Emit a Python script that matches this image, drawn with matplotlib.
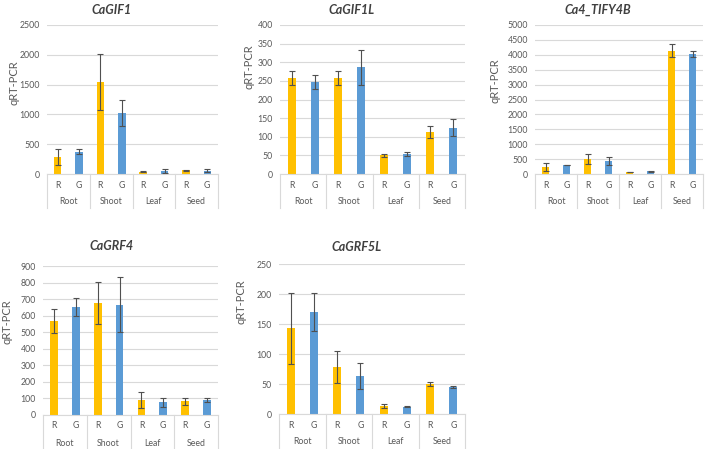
import matplotlib
matplotlib.use("Agg")
import matplotlib.pyplot as plt
import numpy as np

plt.rcParams['font.family'] = ['Lato', 'DejaVu Sans']

# datos
tejidos = ['Root', 'Shoot', 'Leaf', 'Seed']
condiciones = ['R', 'G']
genes = ['CaGIF1', 'CaGIF1L', 'Ca4_TIFY4B', 'CaGRF4', 'CaGRF5L']

gif1_r = [285, 1540, 40, 62]
gif1_g = [375, 1020, 45, 56]
gif1_r_err = [137, 470, 10, 8]
gif1_g_err = [40, 220, 33, 22]

gif1l_r = [258, 257, 50, 113]
gif1l_g = [247, 286, 53, 124]
gif1l_r_err = [19, 19, 5, 16]
gif1l_g_err = [19, 48, 5, 23]

tify_r = [246, 492, 67, 4140]
tify_g = [302, 436, 90, 4040]
tify_r_err = [134, 168, 10, 207]
tify_g_err = [10, 130, 10, 100]

grf4_r = [568, 676, 91, 83]
grf4_g = [652, 666, 76, 91]
grf4_r_err = [70, 128, 50, 20]
grf4_g_err = [55, 165, 25, 10]

grf5l_r = [143, 78, 14, 50]
grf5l_g = [170, 63, 12, 45]
grf5l_r_err = [59, 27, 3.5, 3]
grf5l_g_err = [32, 22, 1, 1.5]

ymax = [2500, 400, 5000, 900, 250]
ypaso = [500, 50, 500, 100, 50]

# posiciones en pixeles: izquierda, derecha, arriba, abajo
cajas = [(47, 218, 25, 174), (280, 465, 25, 174), (535, 703, 25, 174),
         (43, 218, 266, 415), (279, 465, 264, 414)]
titulos_xy = [(112, 10), (352, 10), (598, 10), (112, 246), (357, 247)]
ylabel_xy = [(14, 83), (249, 67), (495, 81), (7, 322), (241, 302)]

datos = [(gif1_r, gif1_g, gif1_r_err, gif1_g_err),
         (gif1l_r, gif1l_g, gif1l_r_err, gif1l_g_err),
         (tify_r, tify_g, tify_r_err, tify_g_err),
         (grf4_r, grf4_g, grf4_r_err, grf4_g_err),
         (grf5l_r, grf5l_g, grf5l_r_err, grf5l_g_err)]

amarillo = '#FFC000'
azul = '#5B9BD5'
gris = '#595959'
W, H = 708, 449

fig = plt.figure(figsize=(W / 100, H / 100), dpi=100)

for i in range(5):
    l, r, t, b = cajas[i]
    ax = fig.add_axes([l / W, 1 - b / H, (r - l) / W, (b - t) / H])
    rr, gg, re, ge = datos[i]
    x = np.arange(len(tejidos))
    xr = x * 2
    xg = x * 2 + 1
    ax.bar(xr, rr, width=0.35, color=amarillo, zorder=2)
    ax.bar(xg, gg, width=0.35, color=azul, zorder=2)
    ax.errorbar(xr, rr, yerr=re, fmt='none', ecolor='#505050', elinewidth=0.8, capsize=2, capthick=0.8, zorder=3)
    ax.errorbar(xg, gg, yerr=ge, fmt='none', ecolor='#505050', elinewidth=0.8, capsize=2, capthick=0.8, zorder=3)
    ax.set_xlim(-0.5, 7.5)
    ax.set_ylim(0, ymax[i])
    ax.set_yticks(np.arange(0, ymax[i] + 1, ypaso[i]))
    ax.yaxis.grid(True, color='#D9D9D9', linewidth=0.8, zorder=0)
    ax.set_axisbelow(True)
    for s in ['top', 'right', 'left']:
        ax.spines[s].set_visible(False)
    ax.spines['bottom'].set_color('#D9D9D9')
    ax.spines['bottom'].set_linewidth(0.8)
    ax.tick_params(axis='y', length=0, labelsize=6.3, labelcolor=gris, pad=5)
    ax.set_xticks([])
    alto = b - t
    # etiquetas de categoria estilo excel
    for j in range(len(tejidos)):
        for k, c in enumerate(condiciones):
            ax.text(2 * j + k, -11 / alto, c, transform=ax.get_xaxis_transform(),
                    ha='center', va='center', fontsize=6.3, color=gris)
        ax.text(2 * j + 0.5, -28 / alto, tejidos[j], transform=ax.get_xaxis_transform(),
                ha='center', va='center', fontsize=6.3, color=gris)
    for sep in [-0.5, 1.5, 3.5, 5.5, 7.5]:
        ax.plot([sep, sep], [0, -34 / alto], transform=ax.get_xaxis_transform(),
                color='#D9D9D9', linewidth=0.8, clip_on=False)
    tx, ty = titulos_xy[i]
    fig.text(tx / W, 1 - ty / H, genes[i], ha='center', va='center',
             fontsize=9, fontweight='bold', fontstyle='italic', color='#404040')
    lx, ly = ylabel_xy[i]
    fig.text(lx / W, 1 - ly / H, 'qRT-PCR', ha='center', va='center',
             rotation=90, fontsize=8, color=gris)

fig.savefig('out.png', dpi=100)
